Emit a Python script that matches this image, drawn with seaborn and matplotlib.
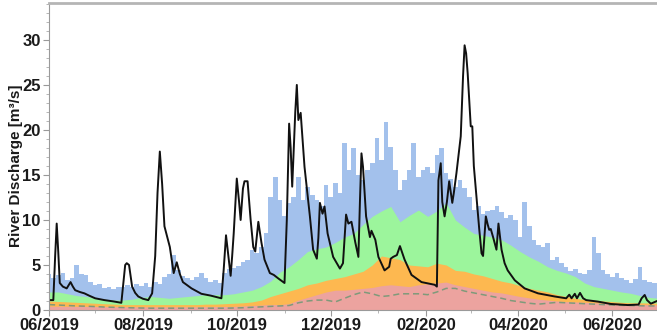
import numpy as np
import pandas as pd
import matplotlib
matplotlib.use("Agg")
import matplotlib.pyplot as plt
import matplotlib.dates as mdates
from matplotlib.ticker import MultipleLocator
import seaborn as sns

# ---------------- data ----------------
start_date = "2019-06-01"

# upper limit of the blue band, every 3 days from start_date
blue_top = [4.0, 3.6, 3.9, 4.1, 3.3, 3.6, 5.0, 4.0, 3.9, 3.1, 2.8, 2.9, 2.4, 2.6, 2.3, 2.5,
            2.6, 2.8, 2.5, 2.9, 2.7, 3.0, 2.6, 3.1, 2.9, 3.7, 4.0, 6.1, 4.4, 3.8, 3.6, 3.3,
            3.7, 4.1, 3.5, 3.1, 3.3, 3.0, 4.1, 4.5, 4.7, 4.9, 5.3, 5.6, 6.7, 6.3, 7.0, 8.5,
            12.6, 14.8, 12.2, 10.4, 11.9, 12.5, 14.8, 12.2, 13.7, 12.8, 12.2, 11.5, 13.9, 12.6,
            14.1, 13.0, 18.5, 15.6, 18.0, 15.0, 14.4, 15.5, 16.3, 19.1, 16.7, 20.9, 18.1, 15.6,
            13.3, 14.4, 15.5, 18.5, 14.8, 15.6, 15.9, 15.2, 17.2, 18.0, 15.2, 14.5, 13.7, 14.4,
            13.5, 12.6, 11.1, 11.5, 10.7, 11.0, 11.1, 11.5, 10.9, 10.2, 10.5, 10.0, 8.1, 12.0,
            9.3, 7.8, 7.2, 7.0, 7.4, 5.6, 5.9, 5.2, 4.8, 4.3, 4.6, 4.1, 4.0, 4.4, 8.1, 6.3,
            4.4, 4.0, 3.7, 4.1, 3.6, 3.3, 3.0, 3.4, 4.8, 3.3, 3.1, 3.0, 3.0]

# upper limits of the green, orange and red bands and the dashed line, every 6 days
green_top = [2.0, 2.0, 1.8, 1.6, 1.5, 1.3, 1.2, 1.1, 1.1, 1.2, 1.4, 1.5, 1.4, 1.3, 1.4, 1.5,
             1.6, 1.7, 1.7, 1.7, 1.8, 2.0, 2.2, 2.6, 3.2, 4.2, 4.8, 5.6, 6.5, 6.8, 7.0, 7.5,
             8.1, 8.5, 9.5, 10.4, 11.0, 11.5, 9.8, 10.5, 11.1, 10.4, 11.0, 11.9, 10.0, 9.2,
             8.5, 8.3, 8.1, 7.8, 7.2, 6.5, 5.9, 5.4, 4.8, 4.4, 4.1, 3.7, 3.0, 2.6, 2.4, 2.2,
             2.0, 1.85, 1.6, 1.4, 1.3]
orange_top = [1.0, 0.95, 0.9, 0.85, 0.8, 0.75, 0.7, 0.65, 0.6, 0.6, 0.6, 0.6, 0.6, 0.6, 0.6,
              0.6, 0.6, 0.65, 0.65, 0.7, 0.75, 0.8, 0.9, 1.1, 1.5, 1.8, 2.1, 2.4, 2.8, 3.0,
              3.3, 3.5, 3.7, 4.0, 4.3, 5.0, 6.0, 5.8, 5.6, 5.0, 4.9, 4.8, 5.2, 5.0, 4.4, 4.3,
              4.0, 3.8, 3.5, 3.2, 3.0, 2.7, 2.4, 2.2, 2.0, 1.7, 1.5, 1.3, 1.15, 1.1, 1.0, 0.93,
              0.85, 0.8, 0.8, 0.78, 0.75]
red_top = [0.42, 0.42, 0.41, 0.4, 0.4, 0.39, 0.38, 0.37, 0.36, 0.36, 0.35, 0.35, 0.35, 0.35,
           0.35, 0.35, 0.36, 0.37, 0.38, 0.39, 0.4, 0.45, 0.5, 0.55, 0.6, 0.6, 0.7, 1.1, 1.4,
           1.7, 2.0, 2.2, 2.2, 2.3, 2.4, 2.5, 2.7, 2.8, 2.7, 2.6, 2.8, 2.9, 3.0, 3.1, 2.8, 2.6,
           2.4, 2.2, 2.0, 1.9, 1.7, 1.5, 1.35, 1.2, 1.1, 1.0, 0.93, 0.9, 0.85, 0.8, 0.75, 0.72,
           0.7, 0.67, 0.62, 0.58, 0.55]
dashed_line = [0.6, 0.55, 0.5, 0.45, 0.42, 0.38, 0.33, 0.3, 0.27, 0.24, 0.22, 0.2, 0.2, 0.2,
               0.2, 0.2, 0.2, 0.2, 0.2, 0.2, 0.22, 0.25, 0.3, 0.35, 0.4, 0.45, 0.5, 0.8, 1.0,
               1.1, 1.1, 0.9, 1.3, 1.7, 2.0, 1.8, 1.5, 1.6, 1.8, 1.8, 1.8, 1.7, 2.0, 2.4, 2.4,
               2.1, 1.9, 1.7, 1.5, 1.3, 1.05, 0.9, 0.75, 0.65, 0.75, 0.85, 0.8, 0.75, 0.7, 0.65,
               0.6, 0.55, 0.52, 0.5, 0.47, 0.45, 0.45]

# observed discharge (black line): day offset from start_date and value
obs_day = [0, 2.8, 4, 5, 6, 7, 9, 11.5, 14, 15.5, 17, 20, 23, 26, 30, 36, 42, 47, 48, 49.5,
           50.5, 52, 54, 56, 58, 61, 64.5, 67, 69, 70.5, 72, 73.5, 75, 78.5, 81, 83, 85, 87,
           92.6, 99, 105, 112, 113.5, 115, 116.5, 118, 119, 120, 122, 123.5, 124.5, 126, 127,
           129, 131, 132.7, 134, 136, 138, 140, 143.5, 146, 149, 153, 154.5, 156, 157, 158,
           160, 161, 162, 163.5, 166, 169.5, 171.6, 174, 175, 176, 177.7, 179, 181, 184.6, 189,
           191, 193, 194.5, 196.5, 199, 201, 202, 203, 204, 206, 208.5, 209.5, 212, 214, 218,
           219.5, 221, 222, 223.6, 226, 228, 231, 235.5, 242, 250.6, 252, 253, 254.5, 255.5,
           257, 258.5, 260, 262, 263, 264.7, 267.5, 269, 270, 271, 272, 274, 275, 276, 277.7,
           279.5, 281, 282, 283.8, 285, 286, 287, 288.5, 290.7, 292, 294, 296, 298, 302.6, 309,
           317.7, 328.6, 336, 338, 339.5, 341.6, 343, 345, 347, 349, 356.7, 365, 376, 383, 385,
           387, 388.5, 391, 395]
obs_val = [1.1, 1.1, 6.0, 9.6, 6.5, 3.0, 2.6, 2.4, 3.1, 2.6, 2.2, 2.0, 1.85, 1.6, 1.3, 1.1,
           0.95, 0.8, 2.5, 5.0, 5.2, 5.0, 2.6, 1.9, 1.5, 1.25, 1.1, 1.85, 6.0, 13.0, 17.6, 14.0,
           9.3, 7.0, 4.1, 5.3, 4.0, 3.1, 2.4, 1.8, 1.6, 1.3, 4.5, 8.3, 6.0, 3.8, 6.0, 8.5, 14.6,
           12.0, 10.0, 13.5, 14.3, 14.3, 10.0, 7.0, 6.5, 9.8, 7.5, 5.6, 4.1, 3.9, 3.5, 3.0, 10.0,
           20.7, 18.0, 13.7, 22.0, 25.0, 21.1, 21.9, 15.9, 10.4, 6.7, 5.7, 8.0, 11.9, 10.7, 11.5,
           8.5, 5.9, 4.6, 5.2, 10.6, 9.6, 9.8, 7.5, 5.9, 12.0, 17.4, 15.9, 10.4, 8.1, 8.8, 7.8,
           5.9, 4.4, 4.6, 4.8, 5.7, 5.9, 6.1, 7.1, 5.6, 3.9, 3.1, 2.8, 2.6, 14.4, 16.3, 12.0,
           10.4, 12.0, 14.3, 11.9, 13.0, 15.2, 19.3, 26.0, 29.4, 28.5, 26.3, 20.4, 20.4, 16.0,
           12.6, 9.0, 6.3, 6.0, 10.4, 9.5, 8.9, 9.0, 8.1, 6.7, 9.6, 6.7, 5.2, 4.4, 3.3, 2.4,
           1.85, 1.5, 1.3, 1.7, 1.3, 1.8, 1.3, 1.9, 1.3, 1.1, 0.93, 0.67, 0.55, 0.6, 1.3, 1.67,
           1.1, 0.7, 1.0]

y_label = "River Discharge [m³/s]"
x_start, x_end = "2019-06-01", "2020-06-30"

# ---------------- build frames ----------------
t0 = pd.Timestamp(start_date)
blue_df = pd.DataFrame({"date": t0 + pd.to_timedelta(np.arange(len(blue_top)) * 3, "D"),
                        "blue": blue_top})
band_df = pd.DataFrame({"date": t0 + pd.to_timedelta(np.arange(len(green_top)) * 6, "D"),
                        "green": green_top, "orange": orange_top, "red": red_top,
                        "dashed": dashed_line})
obs_df = pd.DataFrame({"date": t0 + pd.to_timedelta(obs_day, "D"), "value": obs_val})

# ---------------- plot ----------------
sns.set_style("white")
plt.rcParams["font.family"] = ["Liberation Sans Narrow", "Liberation Sans", "DejaVu Sans"]

fig = plt.figure(figsize=(6.57, 3.36), dpi=100)
ax = fig.add_axes([49 / 657, 26 / 336, 608 / 657, 307 / 336])

ax.fill_between(blue_df["date"], 0, blue_df["blue"], step="mid", color="#a3c1ec", lw=0)
ax.fill_between(band_df["date"], 0, band_df["green"], color="#9cf59c", lw=0)
ax.fill_between(band_df["date"], 0, band_df["orange"], color="#fdb850", lw=0)
ax.fill_between(band_df["date"], 0, band_df["red"], color="#eca39f", lw=0)

sns.lineplot(data=band_df, x="date", y="dashed", ax=ax, color="#7f9a7a", lw=1.1,
             linestyle=(0, (4, 2.5)))
sns.lineplot(data=obs_df, x="date", y="value", ax=ax, color="#111111", lw=1.4)

ax.set_xlim(pd.Timestamp(x_start), pd.Timestamp(x_end))
ax.set_ylim(0, 34.1)

ax.xaxis.set_major_locator(mdates.MonthLocator(bymonth=[2, 4, 6, 8, 10, 12]))
ax.xaxis.set_minor_locator(mdates.MonthLocator())
ax.xaxis.set_major_formatter(mdates.DateFormatter("%m/%Y"))
ax.yaxis.set_major_locator(MultipleLocator(5))
ax.yaxis.set_minor_locator(MultipleLocator(1))

ax.tick_params(axis="both", which="major", direction="out", length=4, width=0.8,
               color="#999999", labelsize=12, labelcolor="#1a1a1a", pad=2,
               bottom=True, left=True)
ax.tick_params(axis="both", which="minor", direction="out", length=2.5, width=0.6,
               color="#aaaaaa", bottom=True, left=True)
for lab in ax.get_xticklabels() + ax.get_yticklabels():
    lab.set_fontweight("bold")

ax.set_xlabel("")
ax.set_ylabel(y_label, fontsize=11, fontweight="bold", color="#1a1a1a")
ax.yaxis.set_label_coords(-0.043, 0.47)

for side in ["left", "bottom"]:
    ax.spines[side].set_color("#9a9a9a")
    ax.spines[side].set_linewidth(0.8)
ax.spines["top"].set_color("#b5b5b5")
ax.spines["top"].set_linewidth(2.0)
ax.spines["right"].set_visible(False)

fig.savefig("out.png", dpi=100)
